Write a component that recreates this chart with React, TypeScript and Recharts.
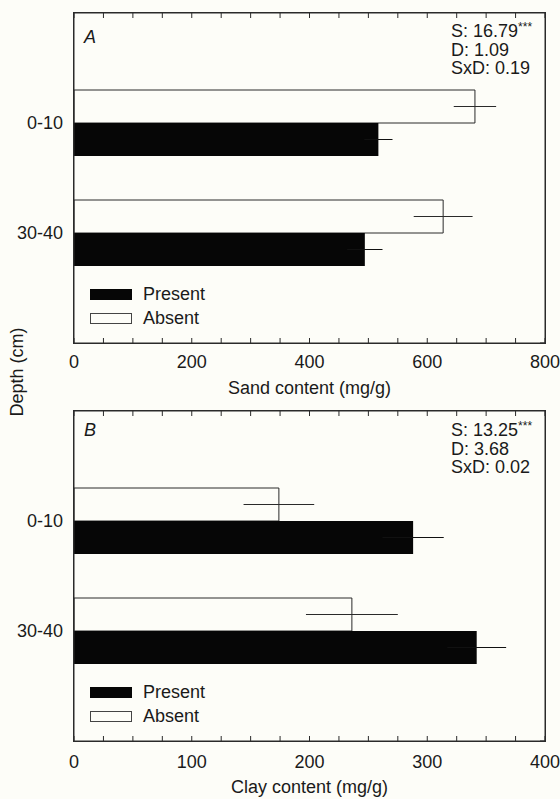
import { BarChart, Bar, XAxis, YAxis, ErrorBar } from 'recharts'

// Soil depth classes (cm)
const depths = ['0-10', '30-40']

// Panel A – sand content (mg/g), mean and SE
const sandPresent = [517, 494]
const sandPresentSe = [24, 30]
const sandAbsent = [681, 627]
const sandAbsentSe = [36, 50]

// Panel B – clay content (mg/g), mean and SE
const clayPresent = [288, 342]
const clayPresentSe = [26, 25]
const clayAbsent = [174, 236]
const clayAbsentSe = [30, 39]

// axis ticks (minor ticks every step, labels only on the major ones)
const sandTicks = [0, 50, 100, 150, 200, 250, 300, 350, 400, 450, 500, 550, 600, 650, 700, 750, 800]
const sandMajor = [0, 200, 400, 600, 800]
const clayTicks = [0, 25, 50, 75, 100, 125, 150, 175, 200, 225, 250, 275, 300, 325, 350, 375, 400]
const clayMajor = [0, 100, 200, 300, 400]
// right frame: slots 0..3, the two depth classes sit at 1 and 2
const frameTicks = [1, 2]

const sandStats = ['S: 16.79', 'D: 1.09', 'SxD: 0.19']
const clayStats = ['S: 13.25', 'D: 3.68', 'SxD: 0.02']

const BG = '#fdfdf8'
const INK = '#2a2a2a'
const FONT = '"Liberation Sans", Arial, Helvetica, sans-serif'

const buildRows = (present: number[], presentSe: number[], absent: number[], absentSe: number[]) =>
  depths.map((depth, i) => ({
    depth,
    present: present[i],
    presentSe: presentSe[i],
    absent: absent[i],
    absentSe: absentSe[i],
  }))

const sandRows = buildRows(sandPresent, sandPresentSe, sandAbsent, sandAbsentSe)
const clayRows = buildRows(clayPresent, clayPresentSe, clayAbsent, clayAbsentSe)

function LegendBox({ top }: { top: number }) {
  const row = { display: 'flex', alignItems: 'center', height: 24 }
  return (
    <div style={{ position: 'absolute', left: 90, top, fontFamily: FONT, fontSize: 18, color: '#1a1a1a' }}>
      <div style={row}>
        <span style={{ width: 42, height: 11, background: '#060606', marginRight: 11, display: 'inline-block' }} />
        Present
      </div>
      <div style={row}>
        <span style={{ width: 40, height: 9, background: BG, border: '1px solid #444', marginRight: 11, display: 'inline-block' }} />
        Absent
      </div>
    </div>
  )
}

// plain box drawn round each plot area
function Frame({ top }: { top: number }) {
  return (
    <div
      style={{
        position: 'absolute',
        left: 73,
        top: top - 1,
        width: 473,
        height: 332,
        boxSizing: 'border-box',
        border: `1px solid ${INK}`,
        pointerEvents: 'none',
      }}
    />
  )
}

interface PanelProps {
  rows: typeof sandRows
  max: number
  ticks: number[]
  major: number[]
  xLabel: string
  labelOffset: number
  tickGap: number
}

function Panel({ rows, max, ticks, major, xLabel, labelOffset, tickGap }: PanelProps) {
  const fmt = (v: number) => (major.includes(v) ? String(v) : '')
  return (
    <BarChart
      width={560}
      height={400}
      data={rows}
      layout="vertical"
      margin={{ top: 11, right: 13, bottom: 0, left: 0 }}
      barCategoryGap={22}
      barGap={0}
      style={{ fontFamily: FONT }}
    >
      <XAxis
        type="number"
        domain={[0, max]}
        ticks={ticks}
        interval={0}
        height={57}
        allowDataOverflow
        tickFormatter={fmt}
        tickSize={-5}
        tickMargin={tickGap}
        stroke={INK}
        tick={{ fill: '#1a1a1a', fontSize: 18 }}
        label={{ value: xLabel, position: 'insideBottom', offset: labelOffset, fill: '#1a1a1a', fontSize: 18 }}
      />
      {/* top frame edge with inward ticks */}
      <XAxis
        xAxisId={1}
        orientation="top"
        type="number"
        domain={[0, max]}
        ticks={ticks}
        allowDataOverflow
        height={2}
        tickSize={-5}
        tickFormatter={() => ''}
        stroke={INK}
      />
      <YAxis
        type="category"
        dataKey="depth"
        width={74}
        padding={{ top: 55, bottom: 55 }}
        tickLine={false}
        tickSize={0}
        tickMargin={11}
        stroke={INK}
        tick={{ fill: '#1a1a1a', fontSize: 18 }}
      />
      {/* right frame edge with inward ticks at the depth classes */}
      <YAxis
        yAxisId={1}
        orientation="right"
        type="number"
        domain={[0, 3]}
        ticks={frameTicks}
        allowDataOverflow
        width={2}
        tickSize={-5}
        tickFormatter={() => ''}
        stroke={INK}
      />
      <Bar dataKey="absent" fill={BG} stroke={INK} strokeWidth={1} isAnimationActive={false}>
        <ErrorBar dataKey="absentSe" direction="x" width={0} stroke={INK} strokeWidth={1} isAnimationActive={false} />
      </Bar>
      <Bar dataKey="present" fill="#060606" isAnimationActive={false}>
        <ErrorBar dataKey="presentSe" direction="x" width={0} stroke="#111" strokeWidth={1} isAnimationActive={false} />
      </Bar>
    </BarChart>
  )
}

function Stats({ lines, top }: { lines: string[]; top: number }) {
  return (
    <g>
      {lines.map((s, i) => (
        <text key={s} x={451} y={top + i * 18.5} fontSize={18} fill="#1a1a1a">
          {s}
          {i === 0 && (
            <tspan fontSize={12} dy={-6}>
              ***
            </tspan>
          )}
        </text>
      ))}
    </g>
  )
}

export default function App() {
  return (
    <div style={{ position: 'absolute', left: 0, top: 0, width: 560, height: 799, background: BG, overflow: 'hidden' }}>
      <div style={{ position: 'absolute', left: 0, top: 0 }}>
        <Panel rows={sandRows} max={800} ticks={sandTicks} major={sandMajor} xLabel="Sand content (mg/g)" labelOffset={6} tickGap={17.5} />
      </div>
      <div style={{ position: 'absolute', left: 0, top: 398 }}>
        <Panel rows={clayRows} max={400} ticks={clayTicks} major={clayMajor} xLabel="Clay content (mg/g)" labelOffset={5} tickGap={19} />
      </div>
      <Frame top={13} />
      <Frame top={411} />
      <LegendBox top={282} />
      <LegendBox top={680} />
      <svg width={560} height={799} style={{ position: 'absolute', left: 0, top: 0, pointerEvents: 'none', fontFamily: FONT }}>
        <text x={84} y={43} fontSize={18} fontStyle="italic" fill="#1a1a1a">A</text>
        <text x={84} y={436} fontSize={18} fontStyle="italic" fill="#1a1a1a">B</text>
        <Stats lines={sandStats} top={37} />
        <Stats lines={clayStats} top={436} />
        <text x={17} y={378} fontSize={18} textAnchor="middle" fill="#1a1a1a" transform="rotate(-90 17 372)">
          Depth (cm)
        </text>
      </svg>
    </div>
  )
}
